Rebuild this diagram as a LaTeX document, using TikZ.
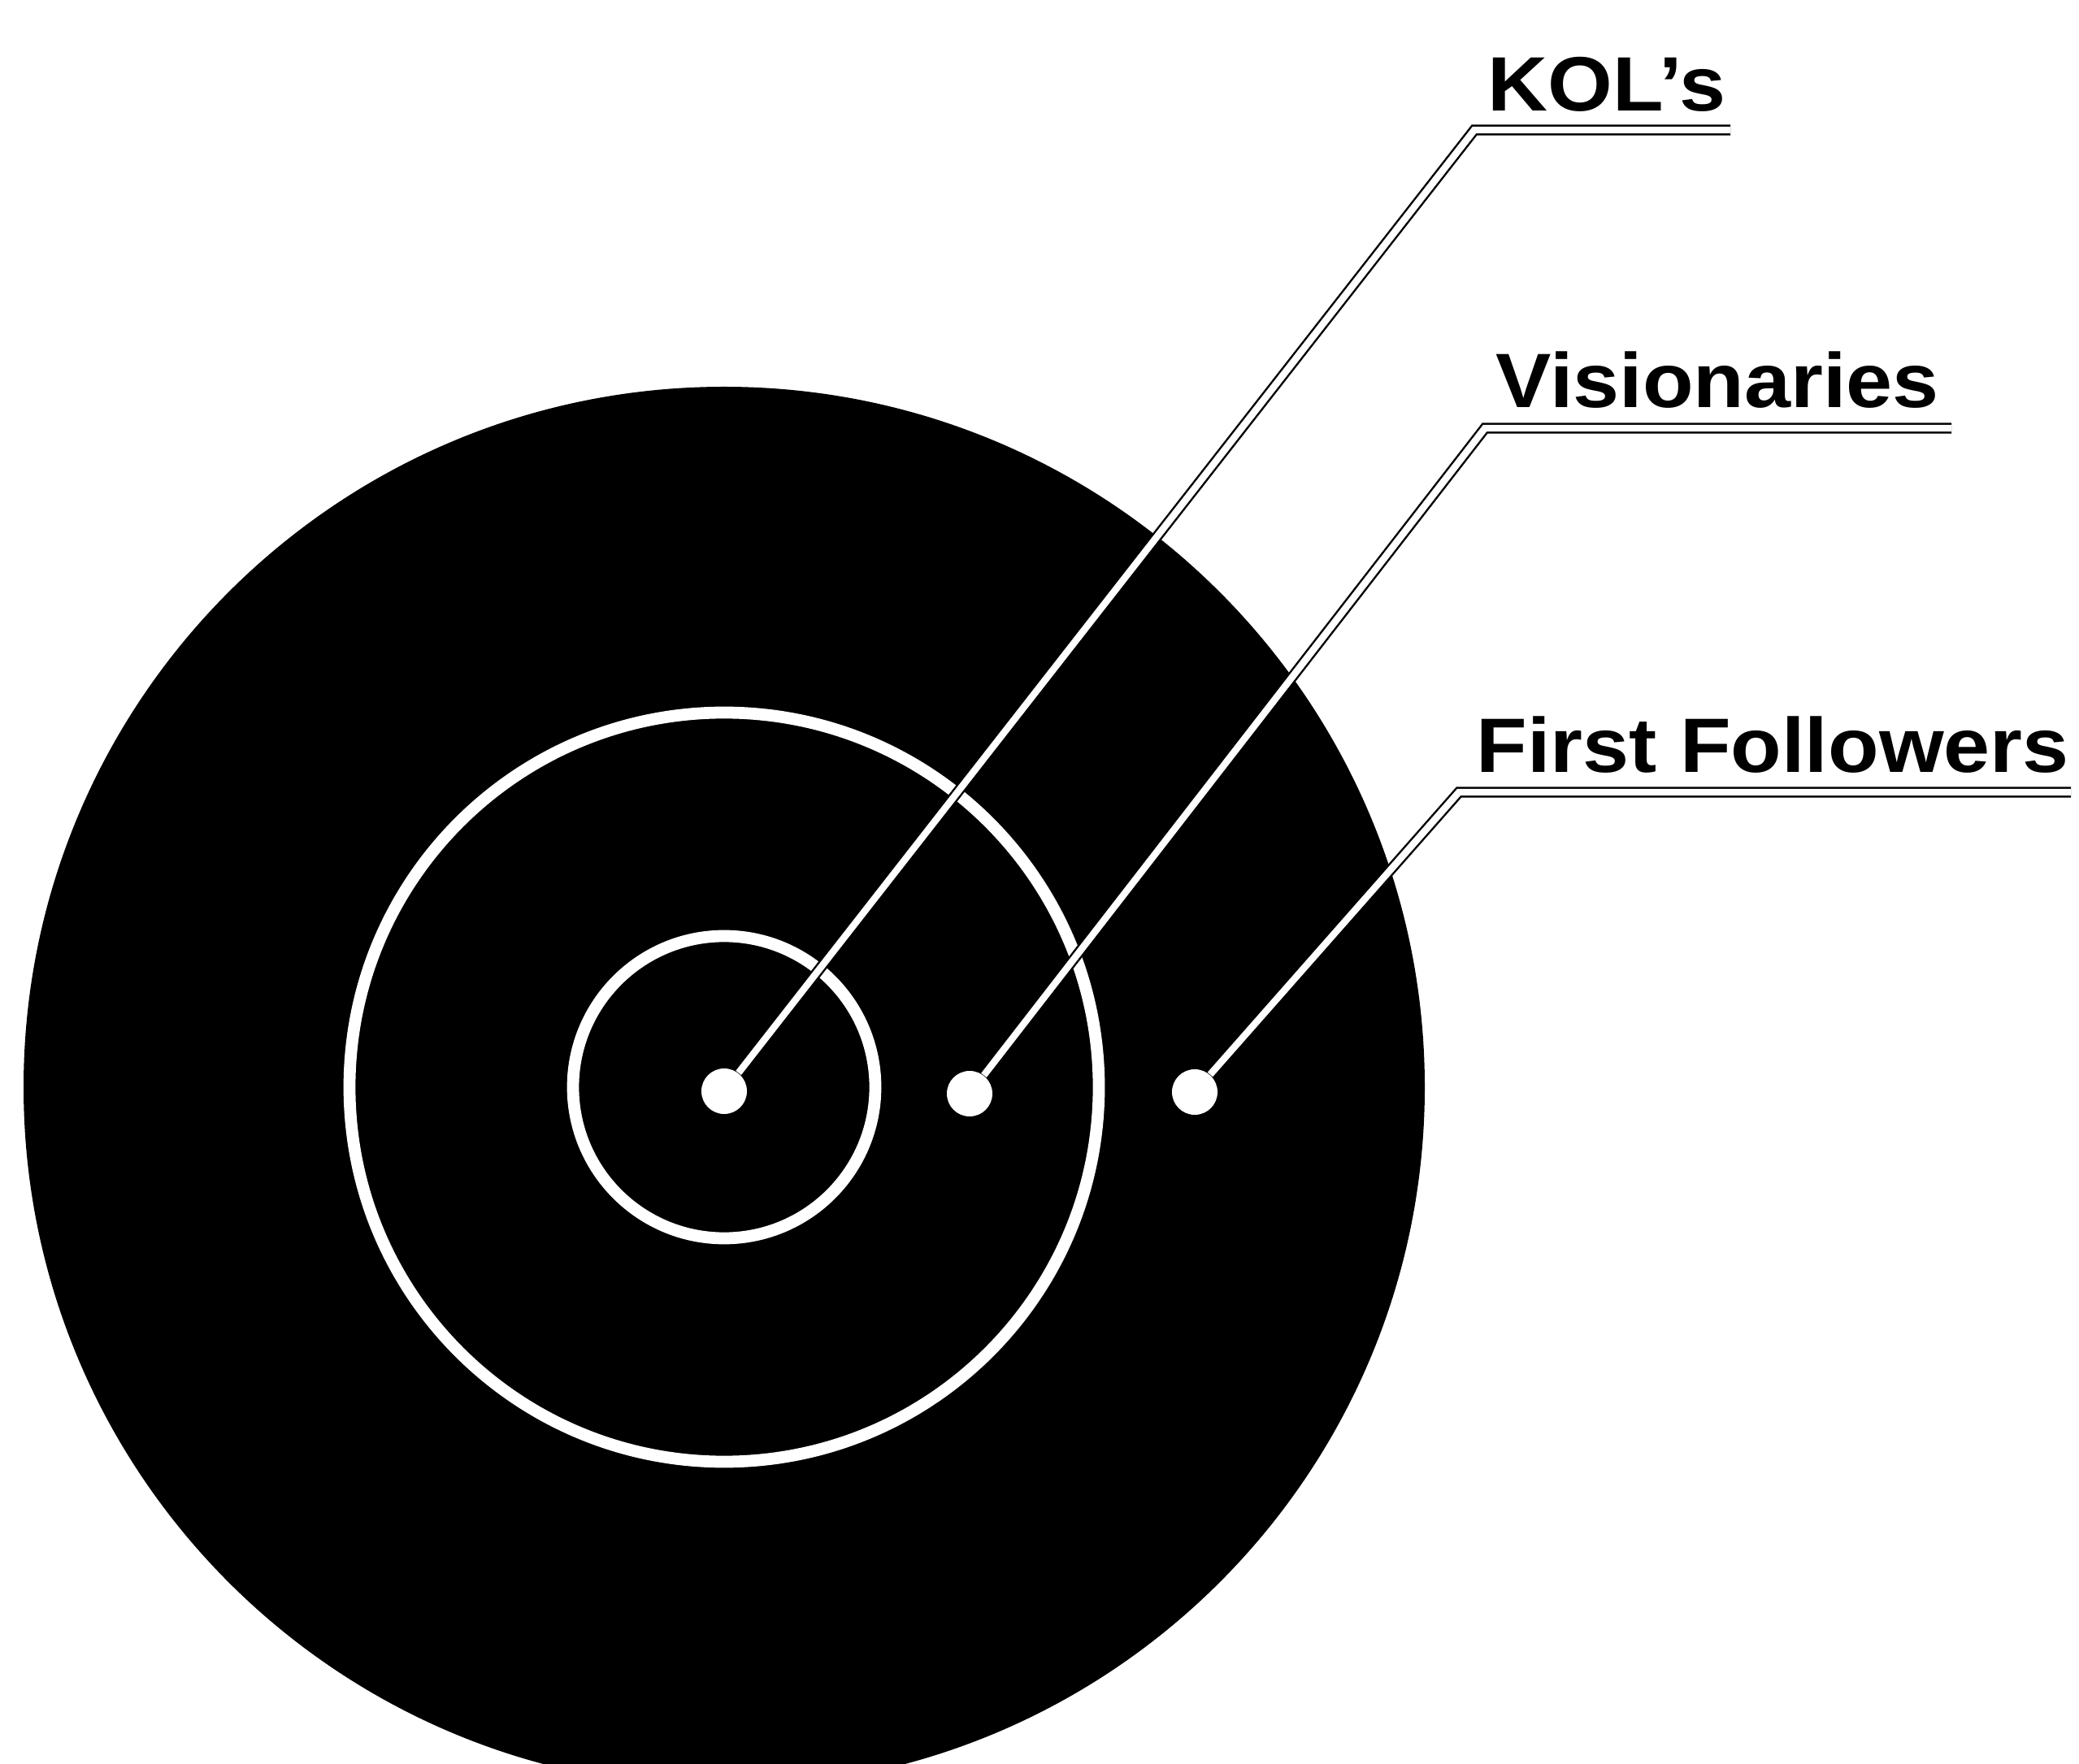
\documentclass[tikz,border=0pt]{standalone}
\usepackage{fontspec}
\newfontfamily\lblfont[FakeStretch=1.08]{Liberation Sans}
\usetikzlibrary{positioning}

\begin{document}
\begin{tikzpicture}[
    ring/.style={draw=white, line width=4.2pt},
    dot/.style={circle, fill=white, inner sep=0pt, minimum size=0.56cm},
    leader/.style={draw=black, line width=0.7pt, double=white, double distance=2.4pt, line join=miter},
    lbl/.style={font=\lblfont\bfseries\fontsize{27}{30}\selectfont, inner sep=0pt, anchor=base west}
]
    \useasboundingbox (0,0) rectangle (25.58,21.70);
    \clip (0,0) rectangle (25.58,21.70);

    % Target
    \fill[black] (8.91,8.32) circle (8.62);
    \draw[ring] (8.91,8.32) circle (4.61);
    \draw[ring] (8.91,8.32) circle (1.86);

    % Dots
    \node[dot] (koldot) at (8.91,8.27) {};
    \node[dot] (visdot) at (11.93,8.24) {};
    \node[dot] (ffdot) at (14.70,8.26) {};

    % Labels
    \node[lbl] (kol) at (18.30,20.33) {KOL’s};
    \node[lbl] (vis) at (18.40,16.68) {Visionaries};
    \node[lbl] (ff) at (18.16,12.19) {First Followers};

    % Leader bends
    \coordinate (kolbend) at (18.14,20.10);
    \coordinate (kolend) at (21.29,20.10);
    \coordinate (visbend) at (18.27,16.43);
    \coordinate (visend) at (24.01,16.43);
    \coordinate (ffbend) at (17.95,11.95);
    \coordinate (ffend) at (25.48,11.95);

    % Leaders
    \draw[leader] (koldot) -- (kolbend) -- (kolend);
    \draw[leader] (visdot) -- (visbend) -- (visend);
    \draw[leader] (ffdot) -- (ffbend) -- (ffend);
\end{tikzpicture}
\end{document}
